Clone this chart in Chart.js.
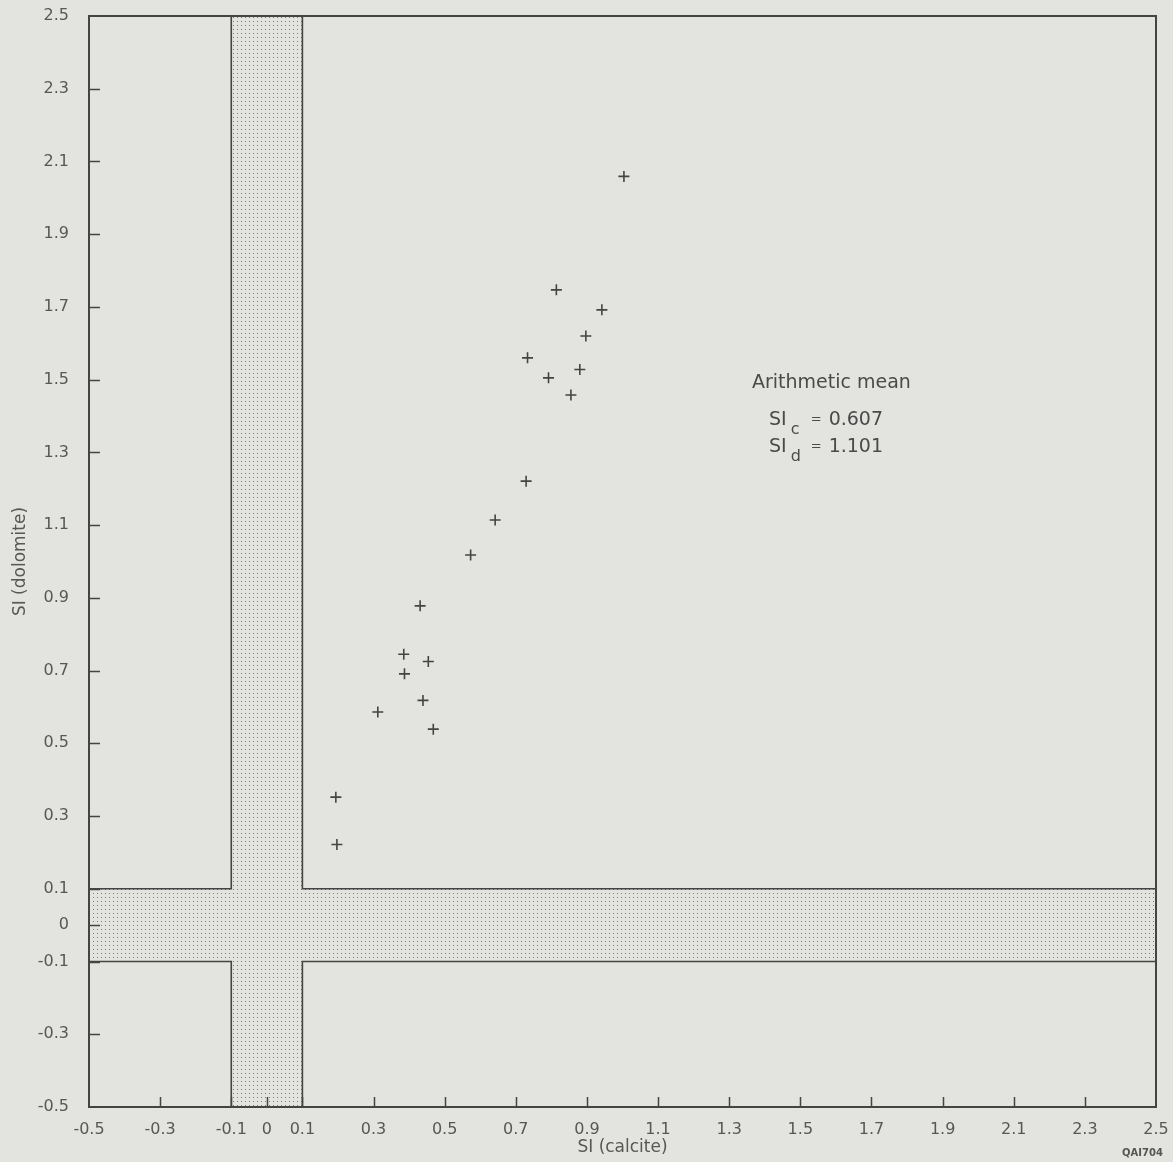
<!DOCTYPE html>
<html><head><meta charset="utf-8">
<script src="https://cdn.jsdelivr.net/npm/chart.js@4/dist/chart.umd.min.js"></script>
<style>html,body{margin:0;padding:0;background:#e3e3df;} #wrap{width:1173px;height:1162px;}</style>
</head><body><div id="wrap"><canvas id="c" width="1173" height="1162"></canvas></div>
<script>
// ---- data ----
const siCalcite  = [1.004,0.814,0.942,0.897,0.733,0.792,0.880,0.855,0.729,0.642,0.573,0.431,0.385,0.454,0.387,0.439,0.312,0.468,0.194,0.197];
const siDolomite = [2.059,1.747,1.692,1.620,1.560,1.505,1.528,1.458,1.221,1.114,1.018,0.878,0.745,0.725,0.691,0.618,0.586,0.539,0.352,0.222];
const tickValues = [-0.5,-0.3,-0.1,0,0.1,0.3,0.5,0.7,0.9,1.1,1.3,1.5,1.7,1.9,2.1,2.3,2.5];
const axisRange = [-0.5, 2.5];
const zeroBand = [-0.1, 0.1];
const meanTitle = 'Arithmetic mean';
const meanSymbols = ['c', 'd'];
const meanValues = ['0.607', '1.101'];
const xTitle = 'SI (calcite)';
const yTitle = 'SI (dolomite)';
const figureCode = 'QAI704';

const INK = '#444444';
const TEXT = '#575757';
const FONT = '"DejaVu Sans", sans-serif';

function makePattern(ctx) {
  const p = document.createElement('canvas');
  p.width = 4; p.height = 4;
  const g = p.getContext('2d');
  g.fillStyle = 'rgba(90,90,90,0.75)';
  g.fillRect(1, 1, 1, 1);
  return ctx.createPattern(p, 'repeat');
}

const points = siCalcite.map((x, i) => ({x, y: siDolomite[i]}));

const figurePlugin = {
  id: 'figure',
  beforeDatasetsDraw(chart) {
    const {ctx, chartArea: a, scales: {x, y}} = chart;
    const [lo, hi] = zeroBand;
    const [mn, mx] = axisRange;
    const poly = [[lo,mx],[hi,mx],[hi,hi],[mx,hi],[mx,lo],[hi,lo],[hi,mn],[lo,mn],[lo,lo],[mn,lo],[mn,hi],[lo,hi]];
    ctx.save();
    ctx.beginPath();
    poly.forEach(([vx, vy], i) => {
      const px = x.getPixelForValue(vx), py = y.getPixelForValue(vy);
      if (i === 0) ctx.moveTo(px, py); else ctx.lineTo(px, py);
    });
    ctx.closePath();
    ctx.fillStyle = makePattern(ctx);
    ctx.fill();
    ctx.strokeStyle = INK;
    ctx.lineWidth = 1.6;
    ctx.stroke();
    ctx.lineWidth = 2;
    ctx.strokeRect(a.left, a.top, a.right - a.left, a.bottom - a.top);
    ctx.lineWidth = 1.5;
    ctx.beginPath();
    x.ticks.forEach(t => {
      if (t.value <= mn || t.value >= mx) return;
      const px = Math.round(x.getPixelForValue(t.value)) + 0.5;
      ctx.moveTo(px, a.bottom); ctx.lineTo(px, a.bottom - 10);
    });
    y.ticks.forEach(t => {
      if (t.value <= mn || t.value >= mx) return;
      const py = Math.round(y.getPixelForValue(t.value)) + 0.5;
      ctx.moveTo(a.left, py); ctx.lineTo(a.left + 11, py);
    });
    ctx.stroke();
    ctx.restore();
  },
  afterDraw(chart) {
    const {ctx, scales: {x, y}} = chart;
    ctx.save();
    ctx.fillStyle = '#4a4a4a';
    ctx.textBaseline = 'middle';
    ctx.textAlign = 'left';
    const ax = x.getPixelForValue(1.364);
    const ay = y.getPixelForValue(1.49);
    ctx.font = '19px ' + FONT;
    ctx.fillText(meanTitle, ax, ay);
    meanSymbols.forEach((s, i) => {
      const ly = ay + 37 + i * 27;
      const sx = ax + 17;
      ctx.font = '19px ' + FONT;
      ctx.fillText('SI', sx, ly);
      const w = ctx.measureText('SI').width;
      ctx.font = '16px ' + FONT;
      ctx.fillText(s, sx + w + 4, ly + 10);
      ctx.font = '13px ' + FONT;
      ctx.fillText('=', sx + w + 24, ly - 1);
      ctx.font = '19px ' + FONT;
      ctx.fillText(meanValues[i], sx + w + 42, ly);
    });
    ctx.font = 'bold 10px ' + FONT;
    ctx.fillStyle = '#555';
    ctx.fillText(figureCode, 1122, 1153);
    ctx.restore();
  }
};

const tickFont = {family: FONT, size: 16};
const fmt = v => String(v);

new Chart(document.getElementById('c'), {
  type: 'scatter',
  data: {
    datasets: [{
      data: points,
      pointStyle: 'cross',
      pointRadius: 5.5,
      pointBorderWidth: 1.6,
      borderColor: INK,
      backgroundColor: INK
    }]
  },
  options: {
    responsive: false,
    animation: false,
    devicePixelRatio: 1,
    layout: {padding: {top: 16, right: 17, left: 0, bottom: 0}},
    plugins: {legend: {display: false}, tooltip: {enabled: false}},
    scales: {
      x: {
        type: 'linear', min: axisRange[0], max: axisRange[1],
        afterBuildTicks: s => { s.ticks = tickValues.map(v => ({value: v})); },
        afterFit: s => { s.height = 55; s.paddingLeft = 0; s.paddingRight = 0; },
        ticks: {callback: fmt, font: tickFont, color: TEXT, padding: 13, maxRotation: 0, autoSkip: false},
        grid: {display: false, drawTicks: false},
        border: {display: false},
        title: {display: true, text: xTitle, font: {family: FONT, size: 17}, color: TEXT, padding: {top: 4, bottom: 4}}
      },
      y: {
        type: 'linear', min: axisRange[0], max: axisRange[1],
        afterBuildTicks: s => { s.ticks = tickValues.map(v => ({value: v})); },
        afterFit: s => { s.width = 89; s.paddingTop = 0; s.paddingBottom = 0; },
        ticks: {callback: fmt, font: tickFont, color: TEXT, padding: 20, autoSkip: false},
        grid: {display: false, drawTicks: false},
        border: {display: false},
        title: {display: true, text: yTitle, font: {family: FONT, size: 17}, color: TEXT, padding: {top: 10, bottom: 10}}
      }
    }
  },
  plugins: [figurePlugin]
});
</script>
</body></html>
